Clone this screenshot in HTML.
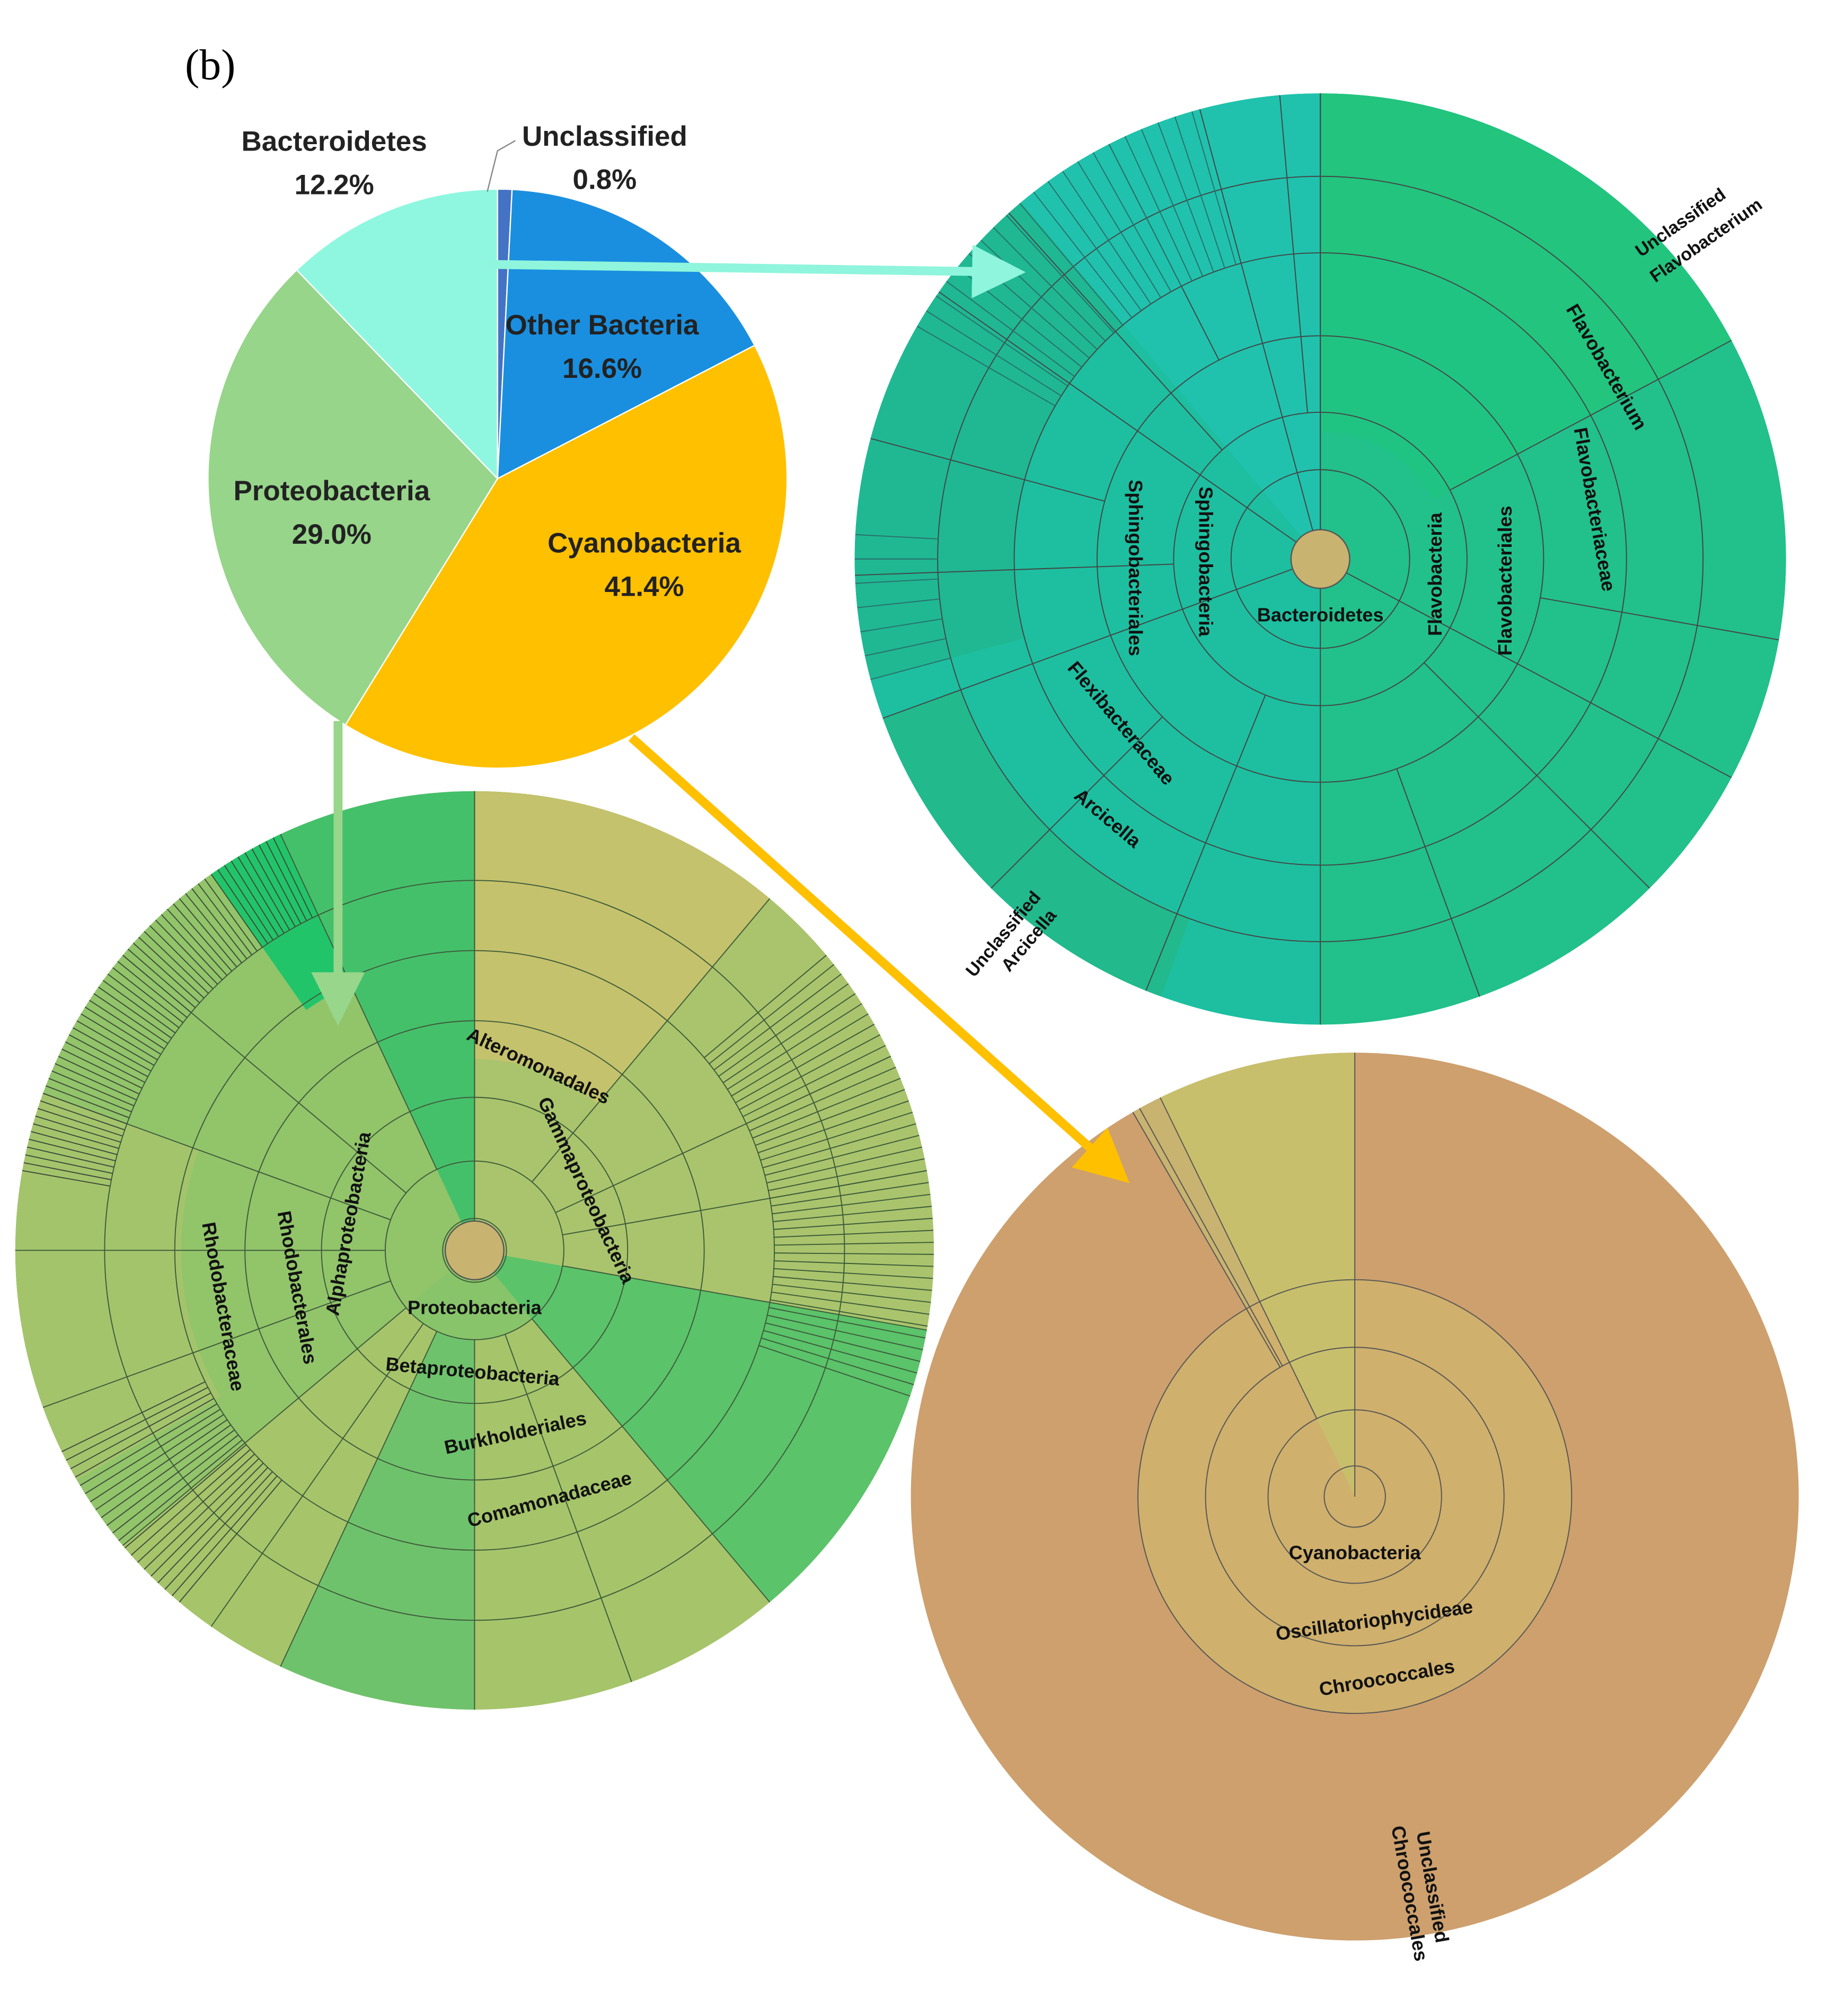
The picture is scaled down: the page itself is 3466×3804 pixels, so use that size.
<!DOCTYPE html>
<html><head><meta charset="utf-8"><style>
html,body{margin:0;padding:0;background:#fff}
svg{display:block}
text{font-family:"Liberation Sans",sans-serif}
</style></head><body>
<svg id="s" width="3466" height="3804" viewBox="0 0 1440 1580" xmlns="http://www.w3.org/2000/svg">
<defs>
<marker id="am" markerWidth="6" markerHeight="6" refX="4" refY="3" orient="auto" markerUnits="strokeWidth"><path d="M0,0 L6,3 L0,6 z" fill="#8ff5dc"/></marker>
<marker id="ag" markerWidth="6" markerHeight="6" refX="4" refY="3" orient="auto" markerUnits="strokeWidth"><path d="M0,0 L6,3 L0,6 z" fill="#97d68b"/></marker>
<marker id="ao" markerWidth="6" markerHeight="6" refX="4" refY="3" orient="auto" markerUnits="strokeWidth"><path d="M0,0 L6,3 L0,6 z" fill="#ffc000"/></marker>
</defs>
<g id="g"></g>
<text x="145" y="62" font-size="34" fill="#000" style="font-family:'Liberation Serif',serif">(b)</text>
</svg>
<script>
const NS="http://www.w3.org/2000/svg",G=document.getElementById('g');
function el(t,a,txt){const e=document.createElementNS(NS,t);for(const k in a)e.setAttribute(k,a[k]);if(txt)e.textContent=txt;G.appendChild(e);return e;}
function pt(cx,cy,r,a){const t=(a-90)*Math.PI/180;return [cx+r*Math.cos(t),cy+r*Math.sin(t)];}
function wedge(cx,cy,r0,r1,a0,a1,fill,stroke,sw){
 if(a1-a0>=360){el('circle',{cx,cy,r:r1,fill,stroke:stroke||'none','stroke-width':sw||0.8});return;}
 const L=(a1-a0)>180?1:0;const p1=pt(cx,cy,r1,a0),p2=pt(cx,cy,r1,a1),p3=pt(cx,cy,r0,a1),p4=pt(cx,cy,r0,a0);
 let d=`M${p1} A${r1},${r1} 0 ${L} 1 ${p2} L${p3}`;
 if(r0>0)d+=` A${r0},${r0} 0 ${L} 0 ${p4}`;d+='Z';
 el('path',{d,fill,stroke:stroke||'none','stroke-width':sw||0.8});}
function ring(cx,cy,r,st){el('circle',{cx,cy,r,fill:'none',stroke:st||'#444','stroke-width':0.8});}
function ray(cx,cy,r0,r1,a,st){const p=pt(cx,cy,r0,a),q=pt(cx,cy,r1,a);el('line',{x1:p[0],y1:p[1],x2:q[0],y2:q[1],stroke:st||'#444','stroke-width':0.8});}
function lab(x,y,rot,t,fs,w){el('text',{x,y,transform:`rotate(${rot} ${x} ${y})`,'font-size':fs||15,'font-weight':w||'bold','text-anchor':'middle',fill:'#111'},t);}

// ---- Top-right sunburst (Bacteroidetes)
let cx=1035,cy=438,R=365;
wedge(cx,cy,0,R,0,360,'#1fbf9a');
wedge(cx,cy,0,R,0,180,'#22c08a');
wedge(cx,cy,100,R,0,62,'#20c482');
wedge(cx,cy,240,R,0,62,'#22c47e');
wedge(cx,cy,0,R,180,320,'#1dbfa0');
wedge(cx,cy,0,R,320,360,'#20c2ad');
wedge(cx,cy,240,R,255,320,'#1fb893');
wedge(cx,cy,300,R,200,250,'#22b98c');
[70,115,175,240,300].forEach(r=>ring(cx,cy,r));
[0,62,100,118,135,160,180,202,225,250,268,285,305,318,333,345,355].forEach((a,i)=>ray(cx,cy,i%3==0?0:(i%3==1?115:175),R,a));
for(let a=300;a<345;a+=2.2)ray(cx,cy,240,R,a,'#2b6f6a');
for(let a=255;a<275;a+=3)ray(cx,cy,300,R,a,'#2b6f6a');
el('circle',{cx,cy,r:23,fill:'#c8b370',stroke:'#555','stroke-width':1});
ray(cx,cy,23,R,0);
lab(1035,487,0,'Bacteroidetes',15);
lab(1130,450,-90,'Flavobacteria',15);lab(1185,455,-90,'Flavobacteriales',15);
lab(1245,400,80,'Flavobacteriaceae',15);lab(1255,290,60,'Flavobacterium',15);
lab(1320,178,-35,'Unclassified',14);lab(1340,192,-35,'Flavobacterium',14);
lab(940,440,90,'Sphingobacteria',15);lab(885,445,90,'Sphingobacteriales',15);
lab(875,570,50,'Flexibacteraceae',15);lab(865,645,40,'Arcicella',15);
lab(790,735,-50,'Unclassified',14);lab(810,740,-50,'Arcicella',14);

// ---- Bottom-left sunburst (Proteobacteria)
cx=372;cy=980;R=360;
wedge(cx,cy,0,R,0,360,'#88c46a');
wedge(cx,cy,0,R,0,100,'#a9c46c');
wedge(cx,cy,150,R,0,40,'#c4c26c');
wedge(cx,cy,0,R,100,140,'#5bc36a');
wedge(cx,cy,70,R,140,230,'#a6c46a');
wedge(cx,cy,70,R,180,205,'#6fc26c');
wedge(cx,cy,0,R,230,335,'#92c46a');
wedge(cx,cy,230,R,240,290,'#a4c46c');
wedge(cx,cy,0,R,335,360,'#45c06a');
wedge(cx,cy,230,R,325,335,'#22c46a');
[25,70,120,180,235,290].forEach(r=>ring(cx,cy,r,'#3d5a3a'));
[0,40,65,80,100,140,160,180,205,215,230,250,270,290,310,335].forEach(a=>ray(cx,cy,70,R,a,'#3d5a3a'));
for(let a=50;a<110;a+=1.5)ray(cx,cy,235,R,a,'#3d5a3a');
for(let a=280;a<335;a+=1)ray(cx,cy,290,R,a,'#3d4a3a');
for(let a=220;a<245;a+=1.2)ray(cx,cy,235,R,a,'#3d4a3a');
el('circle',{cx,cy,r:23,fill:'#c8b370',stroke:'#555','stroke-width':1});
ray(cx,cy,23,R,0,'#3d5a3a');
lab(372,1030,0,'Proteobacteria',15);lab(370,1080,5,'Betaproteobacteria',15);
lab(405,1128,-12,'Burkholderiales',15);lab(432,1180,-15,'Comamonadaceae',15);
lab(420,840,25,'Alteromonadales',15);lab(455,935,65,'Gammaproteobacteria',15);
lab(278,960,-80,'Alphaproteobacteria',15);lab(228,1010,80,'Rhodobacterales',15);
lab(170,1025,80,'Rhodobacteraceae',15);

// ---- Bottom-right sunburst (Cyanobacteria)
cx=1062;cy=1173;R=348;
wedge(cx,cy,0,R,0,360,'#cda06e');
wedge(cx,cy,0,R,334,360,'#c8bf6d');
wedge(cx,cy,115,R,330,334,'#c8b370');
wedge(cx,cy,0,170,0,360,'#cfb06c');
wedge(cx,cy,0,170,334,360,'#c8bf6d');
[24,68,117,170].forEach(r=>ring(cx,cy,r,'#555'));
ray(cx,cy,0,R,0,'#555');ray(cx,cy,68,R,334,'#555');ray(cx,cy,117,R,330,'#555');ray(cx,cy,117,R,331,'#555');
lab(1062,1222,0,'Cyanobacteria',15);lab(1078,1275,-8,'Oscillatoriophycideae',15);
lab(1088,1320,-10,'Chroococcales',15);
lab(1118,1480,80,'Unclassified',15);lab(1100,1485,80,'Chroococcales',15);

// ---- Pie
cx=390;cy=375;R=227;
const sl=[[0,2.88,'#4472c4'],[2.88,62.6,'#1a8fe0'],[62.6,211.7,'#ffc000'],[211.7,316.1,'#97d58a'],[316.1,360,'#8ff7e0']];
sl.forEach(s=>wedge(cx,cy,0,R,s[0],s[1],s[2],'#fff',1));
function pl(x,y,t,fs){el('text',{x,y,'font-size':fs||22,'font-weight':'bold','text-anchor':'middle',fill:'#222'},t);}
pl(262,118,'Bacteroidetes');pl(262,152,'12.2%');pl(474,114,'Unclassified');pl(474,148,'0.8%');
pl(472,262,'Other Bacteria');pl(472,296,'16.6%');pl(505,433,'Cyanobacteria');pl(505,467,'41.4%');
pl(260,392,'Proteobacteria');pl(260,426,'29.0%');
el('path',{d:'M382,150 L390,118 L404,110',fill:'none',stroke:'#888','stroke-width':1});

// ---- Arrows
el('line',{x1:380,y1:207,x2:790,y2:213,stroke:'#8ff5dc','stroke-width':7,'marker-end':'url(#am)'});
el('line',{x1:265,y1:565,x2:265,y2:790,stroke:'#97d68b','stroke-width':7,'marker-end':'url(#ag)'});
el('line',{x1:495,y1:578,x2:875,y2:918,stroke:'#ffc000','stroke-width':7,'marker-end':'url(#ao)'});
</script>
</body></html>
